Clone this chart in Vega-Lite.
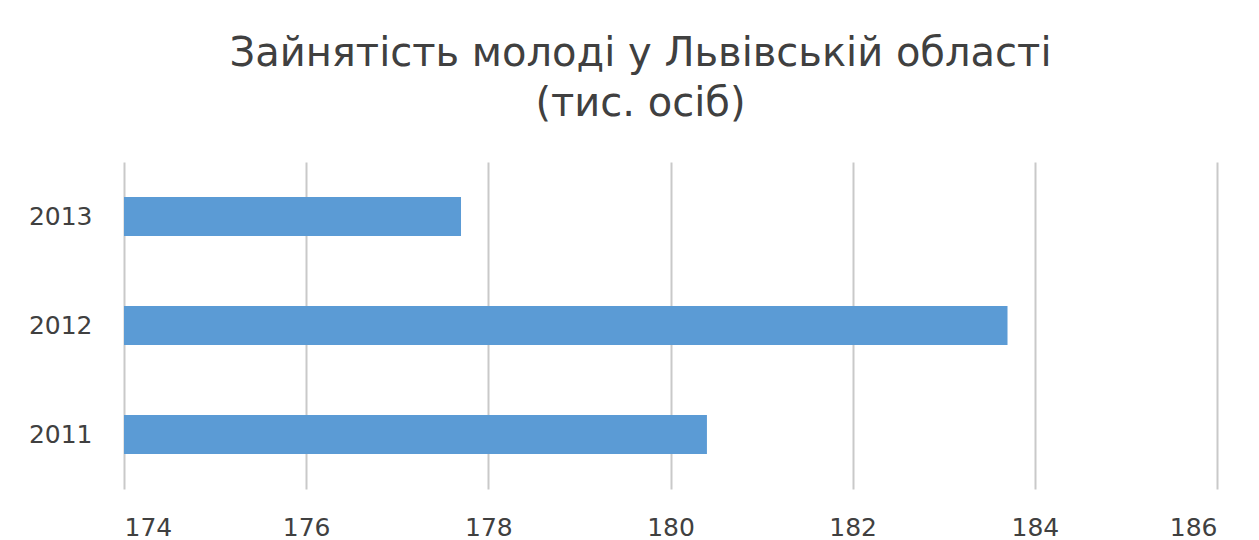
{
  "$schema": "https://vega.github.io/schema/vega-lite/v6.json",
  "width": 1093,
  "height": 327,
  "autosize": {"type": "none"},
  "padding": {"left": 124, "top": 162, "right": 42, "bottom": 51},
  "background": "white",
  "title": {
    "text": ["Зайнятість молоді у Львівській області", "(тис. осіб)"],
    "font": "DejaVu Sans",
    "fontSize": 40,
    "fontWeight": "normal",
    "color": "#404040",
    "lineHeight": 50,
    "anchor": "middle",
    "dx": -30,
    "offset": 38
  },
  "data": {
    "values": [
      {"year": "2011", "value": 180.4},
      {"year": "2012", "value": 183.7},
      {"year": "2013", "value": 177.7}
    ]
  },
  "mark": {"type": "bar", "color": "#5B9BD5", "clip": true},
  "encoding": {
    "y": {
      "field": "year",
      "type": "nominal",
      "sort": "descending",
      "scale": {"paddingInner": 0.64, "paddingOuter": 0.32},
      "axis": {
        "title": null,
        "domain": false,
        "ticks": false,
        "labelFont": "DejaVu Sans",
        "labelFontSize": 25,
        "labelColor": "#404040",
        "labelPadding": 32
      }
    },
    "x": {
      "field": "value",
      "type": "quantitative",
      "scale": {"domain": [174, 186], "zero": false, "nice": false},
      "axis": {
        "title": null,
        "domain": false,
        "ticks": false,
        "values": [174, 176, 178, 180, 182, 184, 186],
        "grid": true,
        "gridColor": "#c9c9c9",
        "gridWidth": 2,
        "labelFont": "DejaVu Sans",
        "labelFontSize": 25,
        "labelColor": "#404040",
        "labelPadding": 26
      }
    }
  },
  "config": {"view": {"stroke": null}}
}
